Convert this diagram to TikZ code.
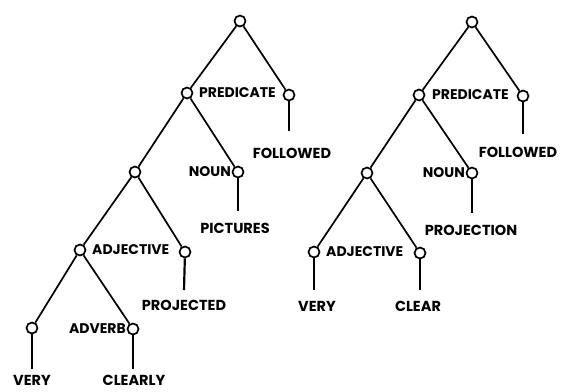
\documentclass[tikz,border=0pt]{standalone}
\usepackage{fontspec}
\setmainfont{Poppins}
\begin{document}
\begin{tikzpicture}[x=1pt,y=-1pt,
  knot/.style={circle,draw,line width=1.7pt,minimum size=11pt,inner sep=0pt},
  word/.style={font=\fontsize{14.5}{16}\selectfont\bfseries,inner sep=0pt},
  tag/.style={font=\fontsize{14}{16}\selectfont\bfseries,inner sep=0pt},
  branch/.style={line width=1.7pt},
  stem/.style={line width=2.2pt}]
\useasboundingbox (0,0) rectangle (565,391);

% ---- first tree ----
\node[knot] (a0) at (240,21) {};
\node[knot] (a1) at (187,93) {};
\node[knot] (a2) at (289,95) {};
\node[knot] (a3) at (135,172) {};
\node[knot] (a4) at (238,172) {};
\node[knot] (a5) at (80,250) {};
\node[knot] (a6) at (185,252) {};
\node[knot] (a7) at (32,328) {};
\node[knot] (a8) at (133,329) {};

\draw[branch] (a0) -- (a1);
\draw[branch] (a0) -- (a2);
\draw[branch] (a1) -- (a3);
\draw[branch] (a1) -- (a4);
\draw[branch] (a3) -- (a5);
\draw[branch] (a3) -- (a6);
\draw[branch] (a5) -- (a7);
\draw[branch] (a5) -- (a8);

\node[tag,anchor=west] (la1) at (199,93) {PREDICATE};
\node[tag,anchor=east] (la4) at (231,172) {NOUN};
\node[tag,anchor=west] (la5) at (92,250) {ADJECTIVE};
\node[tag,anchor=east] (la8) at (126,329) {ADVERB};

\node[word] (wa2) at (292,153) {FOLLOWED};
\node[word] (wa4) at (235,228) {PICTURES};
\node[word] (wa6) at (184,305) {PROJECTED};
\node[word] (wa7) at (32,380) {VERY};
\node[word] (wa8) at (134,380) {CLEARLY};

\coordinate (ea2) at (289,131);
\coordinate (ea4) at (238,211);
\coordinate (ea6) at (184,290);
\coordinate (ea7) at (32,369);
\coordinate (ea8) at (133,369);
\draw[stem] (a2) -- (ea2);
\draw[stem] (a4) -- (ea4);
\draw[stem] (a6) -- (ea6);
\draw[stem] (a7) -- (ea7);
\draw[stem] (a8) -- (ea8);

% ---- second tree ----
\node[knot] (b0) at (472,22) {};
\node[knot] (b1) at (419,95) {};
\node[knot] (b2) at (523,96) {};
\node[knot] (b3) at (367,173) {};
\node[knot] (b4) at (472,173) {};
\node[knot] (b5) at (314,252) {};
\node[knot] (b6) at (420,253) {};

\draw[branch] (b0) -- (b1);
\draw[branch] (b0) -- (b2);
\draw[branch] (b1) -- (b3);
\draw[branch] (b1) -- (b4);
\draw[branch] (b3) -- (b5);
\draw[branch] (b3) -- (b6);

\node[tag,anchor=west] (lb1) at (432,95) {PREDICATE};
\node[tag,anchor=east] (lb4) at (465,173) {NOUN};
\node[tag,anchor=west] (lb5) at (326,252) {ADJECTIVE};

\node[word] (wb2) at (518,152) {FOLLOWED};
\node[word] (wb4) at (471,230) {PROJECTION};
\node[word] (wb5) at (317,306) {VERY};
\node[word] (wb6) at (418,306) {CLEAR};

\coordinate (eb2) at (523,134);
\coordinate (eb4) at (472,213);
\coordinate (eb5) at (314,290);
\coordinate (eb6) at (420,290);
\draw[stem] (b2) -- (eb2);
\draw[stem] (b4) -- (eb4);
\draw[stem] (b5) -- (eb5);
\draw[stem] (b6) -- (eb6);
\end{tikzpicture}
\end{document}
